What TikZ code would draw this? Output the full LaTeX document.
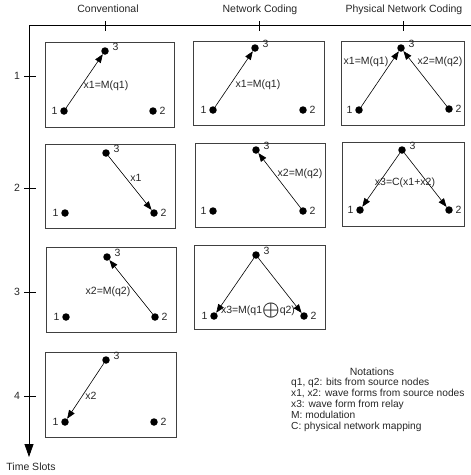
\documentclass[tikz,border=0pt]{standalone}
\usepackage{fontspec}
\setmainfont{Liberation Sans}
\usetikzlibrary{arrows.meta}
\begin{document}
\begin{tikzpicture}[x=1pt,y=-1pt,
  every node/.style={font=\fontsize{10.5}{12}\selectfont, text=black!85},
  panel/.style={draw=black!75, line width=0.9pt},
  dot/.style={circle, fill=black, inner sep=0pt, minimum size=7.5pt},
  lbl/.style={font=\fontsize{10.5}{12}\selectfont, text=black!85, inner sep=0pt},
  arr/.style={-{Triangle[length=8.5pt,width=6.5pt]}, line width=0.6pt},
  axis/.style={line width=0.8pt},
  tick/.style={line width=0.7pt}]
\useasboundingbox (0,0) rectangle (471,475);

% axes
\coordinate (O) at (29,25);
\coordinate (E) at (471,25);
\coordinate (S) at (29,457);
\draw[axis] (E) -- (O);
\draw[axis, -{Triangle[length=13pt,width=9pt]}] (O) -- (S);
\node[inner sep=0pt] (ts) at (31,467) {Time Slots};

% column ticks
\foreach \n/\x in {c/105, n/259, p/403}{
  \coordinate (\n t1) at (\x,21);
  \coordinate (\n t2) at (\x,31);
  \draw[tick] (\n t1) -- (\n t2);
}
\node (hc) at (108,9) {Conventional};
\node (hn) at (260,10) {Network Coding};
\node (hp) at (404,10) {Physical Network Coding};

% row ticks & labels
\foreach \r/\y in {1/76, 2/188, 3/292, 4/396}{
  \coordinate (r\r a) at (24,\y);
  \coordinate (r\r b) at (36,\y);
  \draw[tick] (r\r a) -- (r\r b);
  \node[inner sep=0pt] (rl\r) at (17,\y) {\r};
}

% panel macro: name, x0,y0,x1,y1, node1, node2, node3
\newcommand\mypanel[8]{%
  \node[panel, inner sep=0pt, minimum width={#4-#2}, minimum height={#5-#3}, anchor=north west] (#1-box) at (#2,#3) {};
  \node[dot, label={[lbl,xshift=-9.5pt]center:1}] (#1-1) at (#6) {};
  \node[dot, label={[lbl,xshift=9.5pt]center:2}] (#1-2) at (#7) {};
  \node[dot, label={[lbl,xshift=10.5pt,yshift=4pt]center:3}] (#1-3) at (#8) {};
}

\mypanel{C1}{45}{42}{174}{127}{64,111}{153,111}{105,51}
\mypanel{C2}{45}{144}{175}{228}{65,213}{154,213}{106,153}
\mypanel{C3}{46}{247}{176}{332}{66,317}{155,317}{107,257}
\mypanel{C4}{45}{352}{176}{437}{65,422}{154,422}{106,360}
\mypanel{N1}{193}{41}{324}{125}{213,110}{303,110}{255,48}
\mypanel{N2}{195}{143}{325}{227}{213,211}{303,211}{256,150}
\mypanel{N3}{194}{245}{325}{329}{214,316}{304,316}{256,255}
\mypanel{P1}{341}{41}{464}{125}{359,110}{449,109}{401,48}
\mypanel{P2}{342}{142}{464}{226}{360,210}{449,210}{402,150}

% arrows
\draw[arr] (C1-1) -- (C1-3);
\draw[arr] (C2-3) -- (C2-2);
\draw[arr] (C3-2) -- (C3-3);
\draw[arr] (C4-3) -- (C4-1);
\draw[arr] (N1-1) -- (N1-3);
\draw[arr] (N2-2) -- (N2-3);
\draw[arr] (N3-3) -- (N3-1);
\draw[arr] (N3-3) -- (N3-2);
\draw[arr] (P1-1) -- (P1-3);
\draw[arr] (P1-2) -- (P1-3);
\draw[arr] (P2-3) -- (P2-1);
\draw[arr] (P2-3) -- (P2-2);

% arrow labels
\node[lbl] (lC1) at (106,86) {x1=M(q1)};
\node[lbl] (lC2) at (136,178) {x1};
\node[lbl] (lC3) at (108,292) {x2=M(q2)};
\node[lbl] (lC4) at (91,396) {x2};
\node[lbl] (lN1) at (258,85) {x1=M(q1)};
\node[lbl] (lN2) at (300,174) {x2=M(q2)};
\node[lbl] (lN3) at (258,311) {x3=M(q1\raisebox{-2pt}{\scalebox{1.8}{\boldmath$\oplus$}}q2)};
\node[lbl] (lP1a) at (366,62) {x1=M(q1)};
\node[lbl] (lP1b) at (440,62) {x2=M(q2)};
\node[lbl] (lP2) at (405,183) {x3=C(x1+x2)};

% notations
\node[lbl] (nt) at (372,372) {Notations};
\node[lbl, anchor=west, align=left, font=\fontsize{10.2}{11}\selectfont] (nl) at (291,405)
  {q1, q2: bits from source nodes\\
   x1, x2: wave forms from source nodes\\
   x3: wave form from relay\\
   M: modulation\\
   C: physical network mapping};
\end{tikzpicture}
\end{document}
